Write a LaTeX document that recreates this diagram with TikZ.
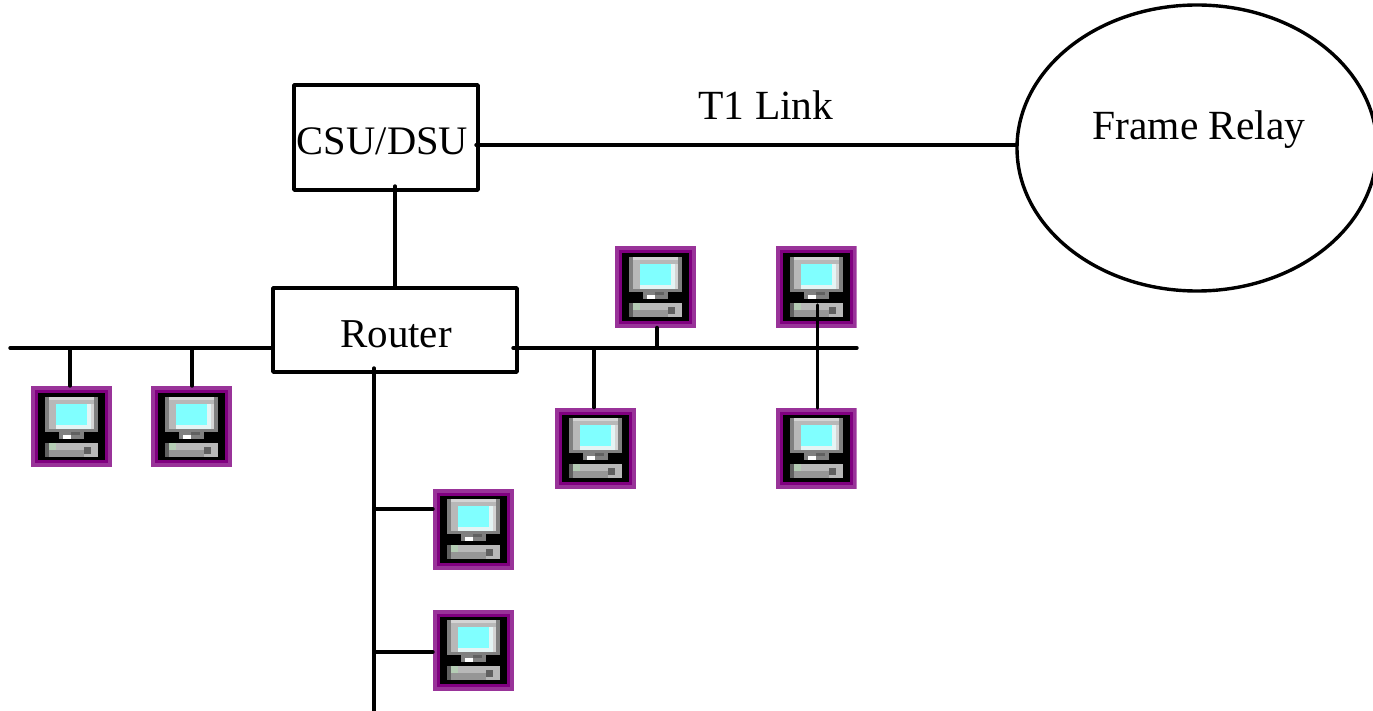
\documentclass[tikz,border=0pt]{standalone}
\usepackage{fontspec}
\usetikzlibrary{shapes.geometric}
\setmainfont{Liberation Serif}
\tikzset{
  x=1pt,y=-1pt,
  wire/.style={line width=3.4pt,black,line cap=round},
  boxnode/.style={draw=black,line width=3.4pt,line join=round,fill=white,inner sep=0pt,outer sep=0pt,anchor=north west},
  label/.style={inner sep=0pt,anchor=base,font=\fontsize{41.5}{48}\selectfont},
  pcicon/.style={draw=none,fill=none,minimum size=81pt,inner sep=0pt,outer sep=0pt,
    path picture={
      \begin{scope}[shift={(path picture bounding box.center)}]
      \fill[pcA] (-40.5,-40.5) rectangle (40.5,40.5);
      \fill[pcB] (-36.5,-36.5) rectangle (36.5,36.5);
      \fill[black] (-33.5,-33.5) rectangle (33.5,33.5);
      % monitor
      \fill[pcG] (-26.3,-29.7) rectangle (26.7,5);
      \fill[pcL] (-22.3,-29.7) rectangle (22.7,2.3);
      \fill[pcS] (-22.3,-26.7) rectangle (22.7,-22.7);
      \fill[pcS] (-22.3,-22.7) rectangle (-15.3,2.3);
      \fill[pcC] (-15.3,-22.7) rectangle (15.7,-1.7);
      \fill[pcW] (15.7,-22.7) rectangle (19.7,2.3);
      \fill[pcW] (-15.3,-1.7) rectangle (19.7,2.3);
      % neck
      \fill[pcG] (-12.3,5) rectangle (12.7,12.3);
      \fill[white] (-8.3,8.3) rectangle (-0.3,12.3);
      \fill[pcD] (-0.3,5) rectangle (8.7,8.3);
      % base
      \fill[pcS] (-26.3,16.3) rectangle (26.7,30.3);
      \fill[pcD] (-26.3,16.3) rectangle (-22.3,30.3);
      \fill[pcN] (-22.3,16.3) rectangle (-15.3,23.3);
      \fill[pcG!60!pcS] (-22.3,23.3) rectangle (12.7,30.3);
      \fill[pcD] (12.7,20) rectangle (19.7,27.3);
      \end{scope}
    }}
}
\definecolor{pcA}{HTML}{993399}
\definecolor{pcB}{HTML}{800080}
\definecolor{pcG}{HTML}{808080}
\definecolor{pcS}{HTML}{B8B8B8}
\definecolor{pcL}{HTML}{D4D4D4}
\definecolor{pcC}{HTML}{80FFFF}
\definecolor{pcW}{HTML}{E4F4F4}
\definecolor{pcD}{HTML}{606060}
\definecolor{pcN}{HTML}{B4CCB4}
\begin{document}
\begin{tikzpicture}
\path[use as bounding box] (0,0) rectangle (1373,711);
\clip (0,0) rectangle (1373,711);
% free ends and junctions
\coordinate (lbusL) at (10,348);
\coordinate (lbusR) at (273,348);
\coordinate (rbusL) at (513,348);
\coordinate (rbusR) at (857,348);
\coordinate (vtop) at (374,368);
\coordinate (vbot) at (374,711);
\coordinate (csuB) at (395,186);
\coordinate (routerT) at (395,288);
\coordinate (t1L) at (476,145);
\coordinate (t1R) at (1017,145);
\coordinate (j1) at (70,348);
\coordinate (j2) at (192,348);
\coordinate (j3) at (594,348);
\coordinate (j4) at (657,348);
\coordinate (j5top) at (817.5,305);
\coordinate (j5bot) at (817.5,408);
\coordinate (j6) at (374,509);
\coordinate (j7) at (374,652);
% shapes
\node[draw=black,line width=3.4pt,fill=none,ellipse,outer sep=0pt,inner sep=0pt,minimum width=360pt,minimum height=286pt] (relay) at (1197,148) {};
\node[boxnode,minimum width=184pt,minimum height=105pt] (csu) at (294,85) {};
\node[boxnode,minimum width=244pt,minimum height=84pt] (router) at (273,288) {};
% icons
\node[pcicon] (pc1) at (71.5,426.5) {};
\node[pcicon] (pc2) at (191.5,426.5) {};
\node[pcicon] (pc3) at (655.5,287) {};
\node[pcicon] (pc4) at (816,287) {};
\node[pcicon] (pc5) at (595.5,448) {};
\node[pcicon] (pc6) at (816,448) {};
\node[pcicon] (pc7) at (473.5,529) {};
\node[pcicon] (pc8) at (473.5,650) {};
% connectors
\draw[wire] (t1L) -- (t1R);
\draw[wire] (csuB) -- (routerT);
\draw[wire] (lbusL) -- (lbusR);
\draw[wire] (rbusL) -- (rbusR);
\draw[wire] (vtop) -- (vbot);
\draw[wire] (j1) -- (j1 |- pc1.north);
\draw[wire] (j2) -- (j2 |- pc2.north);
\draw[wire] (j3) -- (j3 |- pc5.north);
\draw[wire] (j4) -- (j4 |- pc3.south);
\draw[wire] (j5top) -- (j5bot);
\draw[wire] (j6) -- (j6 -| pc7.west);
\draw[wire] (j7) -- (j7 -| pc8.west);
% labels
\node[label,font=\fontsize{40.5}{48}\selectfont] (tcsu) at (382.5,154.5) {CSU/DSU};
\node[label,font=\fontsize{41}{48}\selectfont] (trouter) at (396,347) {Router};
\node[label] (tlink) at (766,119.5) {T1 Link};
\node[label] (tframe) at (1199,140) {Frame Relay};
\end{tikzpicture}
\end{document}
